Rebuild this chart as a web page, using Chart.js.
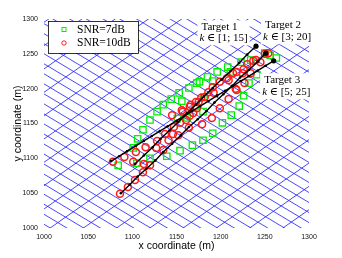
<!DOCTYPE html>
<html>
<head>
<meta charset="utf-8">
<script src="https://cdn.jsdelivr.net/npm/chart.js@4"></script>
<style>
  html, body { margin: 0; padding: 0; background: #fff; }
</style>
</head>
<body>
<canvas id="chart" width="342" height="258"></canvas>
<script>
const TICKS = [1000, 1050, 1100, 1150, 1200, 1250, 1300];

// true trajectories (black)
const TRACK1_X = [1103, 1113, 1123, 1132, 1142, 1152, 1162, 1172, 1181, 1191, 1201, 1211, 1221, 1230, 1240];
const TRACK1_Y = [1092, 1104, 1116, 1128, 1140, 1152, 1165, 1177, 1189, 1201, 1213, 1225, 1237, 1249, 1261];
const TRACK2_X = [1087, 1097, 1106, 1116, 1126, 1135, 1145, 1155, 1164, 1174, 1184, 1193, 1203, 1213, 1222, 1232, 1242, 1251];
const TRACK2_Y = [1050, 1062, 1074, 1085, 1097, 1109, 1121, 1133, 1145, 1156, 1168, 1180, 1192, 1204, 1216, 1227, 1239, 1251];
const TRACK3_X = [1076, 1085, 1094, 1104, 1113, 1122, 1131, 1140, 1150, 1159, 1168, 1177, 1186, 1196, 1205, 1214, 1223, 1232, 1242, 1251, 1260];
const TRACK3_Y = [1096, 1103, 1110, 1118, 1125, 1132, 1139, 1146, 1154, 1161, 1168, 1175, 1182, 1190, 1197, 1204, 1211, 1218, 1226, 1233, 1240];

// estimates, SNR = 7 dB (green squares)
const SNR7_X = [1101, 1106, 1112, 1120, 1128, 1135, 1144, 1153, 1164, 1173, 1185, 1196, 1208, 1223, 1234, 1250, 1256, 1263,
  1084, 1105, 1120, 1139, 1154, 1168, 1180, 1191, 1202, 1212, 1221, 1226, 1232, 1241,
  1156, 1171, 1162, 1151, 1180, 1181, 1176, 1191, 1211];
const SNR7_Y = [1115, 1128, 1141, 1155, 1167, 1177, 1185, 1194, 1201, 1208, 1217, 1224, 1231, 1238, 1241, 1251, 1248, 1244,
  1090, 1093, 1100, 1103, 1111, 1119, 1126, 1136, 1151, 1162, 1175, 1190, 1208, 1220,
  1182, 1174, 1158, 1157, 1167, 1188, 1210, 1211, 1224];

// estimates, SNR = 10 dB (red circles)
const SNR10_X = [1078, 1091, 1101, 1104, 1113, 1115, 1120, 1127, 1135, 1128, 1137, 1141, 1146, 1152, 1147, 1154, 1161, 1165, 1169, 1173, 1164,
  1086, 1095, 1103, 1112, 1157, 1165, 1172, 1178, 1186, 1191, 1199, 1207, 1214, 1225, 1230, 1234, 1227, 1217, 1209, 1199, 1190, 1179,
  1145, 1156, 1166, 1175, 1182, 1192, 1218, 1209, 1218, 1226, 1237, 1240, 1245, 1250, 1254];
const SNR10_Y = [1095, 1102, 1095, 1109, 1092, 1116, 1090, 1115, 1112, 1125, 1135, 1126, 1135, 1133, 1145, 1151, 1155, 1161, 1165, 1172, 1144,
  1049, 1059, 1069, 1080, 1167, 1174, 1181, 1187, 1195, 1202, 1210, 1215, 1222, 1222, 1235, 1222, 1208, 1200, 1185, 1172, 1158, 1149,
  1162, 1169, 1177, 1181, 1188, 1194, 1198, 1212, 1224, 1228, 1240, 1241, 1238, 1250, 1251];

const TARGET_LABELS = [
  { title: "Target 1", range: "[1; 15]" },
  { title: "Target 2", range: "[3; 20]" },
  { title: "Target 3", range: "[5; 25]" },
];

// background range grid: two families of parallel lines
const GRID_DOWN_SLOPE = -0.76, GRID_DOWN_FIRST = 990.9, GRID_DOWN_STEP = 14.4, GRID_DOWN_COUNT = 40;
const GRID_UP_SLOPE = 0.89, GRID_UP_FIRST = 692.3, GRID_UP_STEP = 33.5, GRID_UP_COUNT = 20;

const GRID_COLOR = "rgba(40,40,255,0.85)";
const GREEN = "#00f000";
const RED = "#ff1a1a";
const SERIF = "'Liberation Serif', 'DejaVu Serif', serif";
const SANS = "'Liberation Sans', Arial, sans-serif";

const toPoints = (xs, ys) => xs.map((x, i) => ({ x, y: ys[i] }));

function gridLines(slope, first, step, count) {
  const sets = [];
  for (let k = 0; k < count; k++) {
    const c = first + k * step;
    sets.push({
      type: "line",
      data: [{ x: 1000, y: c }, { x: 1300, y: c + slope * 300 }],
      borderColor: GRID_COLOR,
      borderWidth: 1,
      pointRadius: 0,
      clip: 0,
      order: 10,
    });
  }
  return sets;
}

function trackSet(xs, ys) {
  return {
    type: "line",
    data: toPoints(xs, ys),
    borderColor: "#000",
    borderWidth: 1.4,
    backgroundColor: "#000",
    pointBackgroundColor: "#000",
    pointBorderWidth: 0,
    pointRadius: xs.map((_, i) => (i === xs.length - 1 ? 2.6 : 1.3)),
    tension: 0,
    order: 1,
  };
}

const legendAndLabels = {
  id: "legendAndLabels",
  afterDatasetsDraw(chart) {
    const { ctx, scales: { x, y } } = chart;
    ctx.save();

    // target annotations (with white background)
    const anchors = [
      { x: 1176, y: 1288, dy: 11 },
      { x: 1248, y: 1291, dy: 12 },
      { x: 1247, y: 1212, dy: 12 },
    ];
    TARGET_LABELS.forEach((lab, i) => {
      const px = x.getPixelForValue(anchors[i].x);
      const py = y.getPixelForValue(anchors[i].y);
      ctx.font = `11px ${SERIF}`;
      const w1 = ctx.measureText(lab.title).width;
      ctx.font = `italic 11px ${SERIF}`;
      const wk = ctx.measureText("k").width;
      ctx.font = `11px ${SERIF}`;
      const w2 = wk + ctx.measureText(" \u2208 " + lab.range).width;
      ctx.fillStyle = "#fff";
      ctx.fillRect(px - 2, py - 7, Math.max(w1, w2) + 4, anchors[i].dy + 14);
      ctx.fillStyle = "#000";
      ctx.textBaseline = "middle";
      ctx.textAlign = "left";
      ctx.fillText(lab.title, px + 2, py);
      ctx.font = `italic 11px ${SERIF}`;
      ctx.fillText("k", px, py + anchors[i].dy);
      ctx.font = `11px ${SERIF}`;
      ctx.fillText(" \u2208 " + lab.range, px + wk, py + anchors[i].dy);
    });

    // legend box
    const lx = 48, ly = 21, lw = 90, lh = 32;
    ctx.fillStyle = "#fff";
    ctx.fillRect(lx, ly, lw, lh);
    ctx.strokeStyle = "#000";
    ctx.lineWidth = 0.8;
    ctx.strokeRect(lx + 0.5, ly + 0.5, lw, lh);
    ctx.lineWidth = 1;
    ctx.strokeStyle = GREEN;
    ctx.strokeRect(62, 27.5, 4, 4);
    ctx.strokeStyle = RED;
    ctx.beginPath();
    ctx.arc(64, 43, 2.2, 0, Math.PI * 2);
    ctx.stroke();
    ctx.fillStyle = "#000";
    ctx.font = `11.5px ${SERIF}`;
    ctx.textBaseline = "middle";
    ctx.fillText("SNR=7dB", 77, 30);
    ctx.fillText("SNR=10dB", 77, 43);
    ctx.restore();
  },
};

const datasets = [
  ...gridLines(GRID_DOWN_SLOPE, GRID_DOWN_FIRST, GRID_DOWN_STEP, GRID_DOWN_COUNT),
  ...gridLines(GRID_UP_SLOPE, GRID_UP_FIRST, GRID_UP_STEP, GRID_UP_COUNT),
  {
    label: "SNR=7dB",
    data: toPoints(SNR7_X, SNR7_Y),
    pointStyle: "rect",
    pointRadius: 4.5,
    pointBorderWidth: 1.3,
    borderColor: GREEN,
    backgroundColor: "rgba(0,0,0,0)",
    order: 3,
  },
  {
    label: "SNR=10dB",
    data: toPoints(SNR10_X, SNR10_Y),
    pointStyle: "circle",
    pointRadius: 3.5,
    pointBorderWidth: 1.5,
    borderColor: RED,
    backgroundColor: "rgba(0,0,0,0)",
    order: 2,
  },
  trackSet(TRACK1_X, TRACK1_Y),
  trackSet(TRACK2_X, TRACK2_Y),
  trackSet(TRACK3_X, TRACK3_Y),
];

const tickFont = { family: SANS, size: 7 };

new Chart(document.getElementById("chart"), {
  type: "scatter",
  data: { datasets },
  options: {
    responsive: false,
    animation: false,
    devicePixelRatio: 1,
    layout: { padding: { top: 19, right: 33, left: 0, bottom: 0 } },
    plugins: { legend: { display: false }, tooltip: { enabled: false } },
    scales: {
      x: {
        type: "linear",
        min: 1000,
        max: 1300,
        afterBuildTicks: (s) => { s.ticks = TICKS.map((v) => ({ value: v })); },
        afterFit: (s) => { s.height = 30; },
        grid: { display: false, drawTicks: false },
        border: { display: false },
        ticks: { font: tickFont, color: "#111", padding: 5, maxRotation: 0, callback: (v) => String(v) },
        title: { display: true, text: "x coordinate (m)", font: { family: SANS, size: 10.5 }, color: "#000", padding: { top: 0, bottom: 5.5 } },
      },
      y: {
        type: "linear",
        min: 1000,
        max: 1300,
        afterBuildTicks: (s) => { s.ticks = TICKS.map((v) => ({ value: v })); },
        afterFit: (s) => { s.width = 44; },
        grid: { display: false, drawTicks: false },
        border: { display: false },
        ticks: { font: tickFont, color: "#111", padding: 6, callback: (v) => String(v) },
        title: { display: true, text: "y coordinate (m)", font: { family: SANS, size: 10.5 }, color: "#000", padding: { top: 12, bottom: 0 } },
      },
    },
  },
  plugins: [legendAndLabels],
});
</script>
</body>
</html>
